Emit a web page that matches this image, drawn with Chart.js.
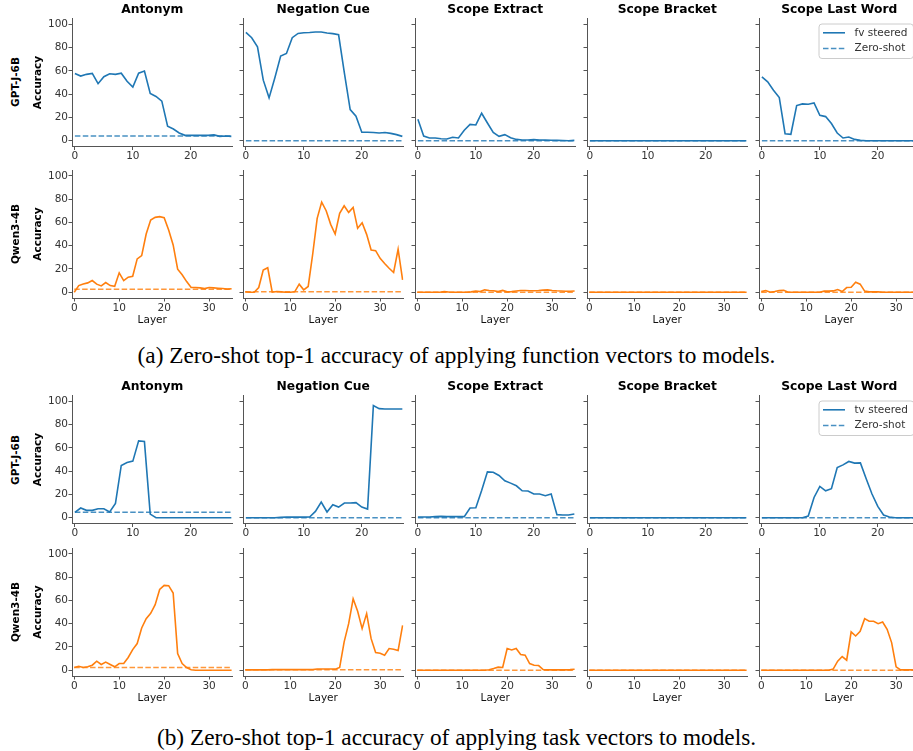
<!DOCTYPE html>
<html>
<head>
<meta charset="utf-8">
<title>Zero-shot steering accuracy</title>
<script src="https://cdn.jsdelivr.net/npm/chart.js@4.4.1/dist/chart.umd.min.js"></script>
<style>
  html, body { margin: 0; padding: 0; background: #fff; overflow: hidden; }
  #fig { position: relative; width: 913px; height: 751px; overflow: hidden; background: #fff; }
  #fig canvas { position: absolute; }
  .model { position: absolute; left: 15px; font: bold 10.5px "DejaVu Sans", sans-serif; color: #000;
           white-space: nowrap; transform: translate(-50%, -50%) rotate(-90deg); }
  .caption { position: absolute; left: 0; width: 913px; text-align: center; color: #000;
             font-family: "Liberation Serif", "Times New Roman", serif; font-size: 23.3px; line-height: 26px; }
</style>
</head>
<body>
<div id="fig"></div>
<script>
const TASKS = ["Antonym", "Negation Cue", "Scope Extract", "Scope Bracket", "Scope Last Word"];
const GPTJ_X_TICKS = [0, 10, 20];
const QWEN_X_TICKS = [0, 10, 20, 30];
const Y_TICKS = [0, 20, 40, 60, 80, 100];

// (a) function vectors -- GPT-J-6B, layers 0..27
const FV_GPTJ_ANTONYM = [57.8,55.5,57,57.8,49,55,57.5,57,58,51,46,58,59.8,40.5,38,34,12.4,10,6.6,4.6,4.6,4.6,4.6,4.6,5,3.7,4,3.7];
const FV_GPTJ_NEGATION = [93,88.5,80.7,52,36.8,54,72.7,75,88.5,92.2,92.8,93,93.4,93.4,92.5,92,91,58,26.7,21,7.2,7.2,7,6.6,7,6.3,5.2,3.7];
const FV_GPTJ_EXTRACT = [18.4,4,2.3,2.3,1.7,1.4,2.9,2.3,9,14,13.5,23.6,15.2,7,3.7,5.2,2.6,1.1,0.6,0.6,0.9,0.6,0.5,0.4,0.3,0.2,0,0.3];
const FV_GPTJ_BRACKET = [0,0,0,0,0,0,0,0,0,0,0,0,0,0,0,0,0,0,0,0,0,0,0,0,0,0,0,0];
const FV_GPTJ_LASTWORD = [54.9,50.6,43.4,37,6,5.5,30.2,31.6,31.3,32.5,21.8,20.7,14.7,6.6,2.3,3.2,1.1,0.3,0,0,0,0,0,0,0,0,0,0];
const ZS_FV_GPTJ = [4.0, 0, 0, 0, 0];

// (a) function vectors -- Qwen3-4B, layers 0..35
const FV_QWEN_ANTONYM = [0,5.7,7.1,8,10,6.9,5.4,8.3,5.7,5.1,16.6,10,12.9,13.7,28.6,31.4,50,62,64.3,64.9,64,53.4,40.6,19.7,14.9,9.1,4,4,3.7,3.1,4,3.7,3.4,3.1,2.6,2.9];
const FV_QWEN_NEGATION = [0.3,0,0,4,19,21,0,0.6,0.3,0,0,0.3,6.9,2,4.9,32.6,63.4,77.4,70,58.3,50,67.7,74.3,68.6,72.9,54.9,59.7,49.7,36.3,35.7,29.1,24.6,20.6,16.9,36.9,10.6];
const FV_QWEN_EXTRACT = [0,0,0,0,0,0,0.5,0.2,0,0,0,0,0.3,1,0.5,2,1.5,1.2,0.5,1.5,0.3,0.5,1,1.5,1.5,1.2,1.2,1.4,1.8,2,1.5,1.2,1,0.8,0.8,1];
const FV_QWEN_BRACKET = [0,0,0,0,0,0,0,0,0,0,0,0,0,0,0,0,0,0,0,0,0,0,0,0,0,0,0,0,0,0,0,0,0,0,0,0];
const FV_QWEN_LASTWORD = [0.5,1.4,0,0.6,1.4,1.7,0,0,0,0,0,0,0,0,0.9,0.9,1.1,2.3,0.6,4,4.3,8.6,6.9,0.9,0.3,0.3,0.3,0,0,0,0,0,0,0,0,0];
const ZS_FV_QWEN = [2.6, 0.4, 0, 0, 0];

// (b) task vectors -- GPT-J-6B
const TV_GPTJ_ANTONYM = [4.6,8.3,6.3,6.3,7.7,7.7,4.9,12.3,44.9,47.4,48.6,66,65.4,3.1,0,0,0,0,0,0,0,0,0,0,0,0,0,0];
const TV_GPTJ_NEGATION = [0,0,0,0,0,0,0.3,0.5,0.5,0.5,0.5,0.6,5.4,13.4,4.9,11.1,9.1,12.6,12.6,12.9,9.1,7.4,96.3,93.7,93.4,93.4,93.4,93.4];
const TV_GPTJ_EXTRACT = [0.6,0.6,0.6,0.9,1.1,0.9,0.9,0.9,0.9,8.3,8.6,23.4,39.4,39.1,36.3,31.7,29.7,27.4,23.1,22.9,20.3,20.3,18.9,20.3,2.6,2.3,2.3,3.1];
const TV_GPTJ_BRACKET = [0,0,0,0,0,0,0,0,0,0,0,0,0,0,0,0,0,0,0,0,0,0,0,0,0,0,0,0];
const TV_GPTJ_LASTWORD = [0,0,0,0,0,0,0,0,1.4,17.4,26.9,23.1,24.9,43.1,45.4,48.3,46.9,47.1,33.4,20.3,9.7,2.3,0.6,0,0,0,0,0];
const ZS_TV_GPTJ = [4.6, 0, 0, 0, 0];

// (b) task vectors -- Qwen3-4B
const TV_QWEN_ANTONYM = [2.3,3.4,2.3,2.9,4.3,7.7,4.9,6.9,4.9,2.9,5.7,5.7,10.9,17.7,22.9,36.3,44.3,48.9,56.3,69.4,72.9,72.6,66.3,14.3,5.7,2.3,0.3,0,0,0,0,0,0,0,0,0];
const TV_QWEN_NEGATION = [0.3,0.3,0.3,0.3,0.3,0.3,0.5,0.5,0.5,0.5,0.5,0.5,0.5,0.5,0.5,0.5,1,1,1,1,0.9,2.3,24.3,40,61.4,50.6,35.7,48.6,27.1,15.1,14.6,12.9,18.6,18,16.9,38.6];
const TV_QWEN_EXTRACT = [0,0,0,0,0,0,0,0,0,0,0,0,0,0,0,0,0.3,1.4,2.6,2.3,18.6,17.4,18.6,13.4,12.9,5.7,4.3,4,0.6,0.3,0.3,0.3,0.3,0.3,0.5,0.8];
const TV_QWEN_BRACKET = [0,0,0,0,0,0,0,0,0,0,0,0,0,0,0,0,0,0,0,0,0,0,0,0,0,0,0,0,0,0,0,0,0,0,0,0];
const TV_QWEN_LASTWORD = [0,0,0,0,0,0,0,0,0,0,0,0,0,0,0,0,0.9,7.7,11.7,8.6,32.9,29.4,33.4,44.3,42,42,40,41.4,35.1,23.7,2.9,0.3,0.3,0.3,0.3,0.3];
const ZS_TV_QWEN = [2.3, 0.3, 0, 0, 0];

const BLUE = "#1f77b4", ORANGE = "#ff7f0e";
const AXIS_GREY = "#555555";

// layout of the subplot grid (page pixels)
const COL_LEFT = [71.7, 243.4, 415.2, 587, 758.7];
const PW = 160.5, PH = 128, YW = 44, RP = 12.5;

const ROWS = [
  { top: 18.3,  model: "GPT-J-6B", label: "fv steered", color: BLUE,   xTicks: GPTJ_X_TICKS, title: true,  layer: false,
    series: [FV_GPTJ_ANTONYM, FV_GPTJ_NEGATION, FV_GPTJ_EXTRACT, FV_GPTJ_BRACKET, FV_GPTJ_LASTWORD], zs: ZS_FV_GPTJ },
  { top: 170,   model: "Qwen3-4B", label: "fv steered", color: ORANGE, xTicks: QWEN_X_TICKS, title: false, layer: true,
    series: [FV_QWEN_ANTONYM, FV_QWEN_NEGATION, FV_QWEN_EXTRACT, FV_QWEN_BRACKET, FV_QWEN_LASTWORD], zs: ZS_FV_QWEN },
  { top: 395.5, model: "GPT-J-6B", label: "tv steered", color: BLUE,   xTicks: GPTJ_X_TICKS, title: true,  layer: false,
    series: [TV_GPTJ_ANTONYM, TV_GPTJ_NEGATION, TV_GPTJ_EXTRACT, TV_GPTJ_BRACKET, TV_GPTJ_LASTWORD], zs: ZS_TV_GPTJ },
  { top: 547.5, model: "Qwen3-4B", label: "tv steered", color: ORANGE, xTicks: QWEN_X_TICKS, title: false, layer: true,
    series: [TV_QWEN_ANTONYM, TV_QWEN_NEGATION, TV_QWEN_EXTRACT, TV_QWEN_BRACKET, TV_QWEN_LASTWORD], zs: ZS_TV_QWEN },
];

Chart.defaults.font.family = '"DejaVu Sans", sans-serif';
Chart.defaults.color = "#333";

// legend box drawn inside the plot, top-right (like matplotlib loc="upper right")
const insideLegend = {
  id: "insideLegend",
  afterDraw(chart) {
    const { ctx, chartArea: a } = chart;
    const sets = chart.data.datasets;
    ctx.save();
    ctx.font = '10.5px "DejaVu Sans", sans-serif';
    const textW = Math.max(...sets.map(d => ctx.measureText(d.label).width));
    const x0 = a.right - 100.5, y0 = a.top + 5.5;
    const w = textW + 41.5, h = 34.5;
    ctx.beginPath();
    if (ctx.roundRect) ctx.roundRect(x0, y0, w, h, 3); else ctx.rect(x0, y0, w, h);
    ctx.fillStyle = "rgba(255,255,255,0.8)";
    ctx.fill();
    ctx.strokeStyle = "#cccccc";
    ctx.lineWidth = 1;
    ctx.stroke();
    sets.forEach((d, i) => {
      const y = y0 + 8.8 + i * 15.8;
      ctx.beginPath();
      ctx.setLineDash(d.borderDash || []);
      ctx.strokeStyle = d.borderColor;
      ctx.lineWidth = d.borderWidth;
      ctx.moveTo(x0 + 4, y);
      ctx.lineTo(x0 + 26, y);
      ctx.stroke();
      ctx.setLineDash([]);
      ctx.fillStyle = "#333";
      ctx.textBaseline = "middle";
      ctx.textAlign = "left";
      ctx.fillText(d.label, x0 + 35.5, y);
    });
    ctx.restore();
  }
};

const fig = document.getElementById("fig");

function addPanel(row, col) {
  const values = row.series[col];
  const n = values.length;
  const th = row.title ? 16.5 : 10;
  const xh = row.layer ? 31 : 18.5;
  const canvas = document.createElement("canvas");
  canvas.width = YW + PW + RP;
  canvas.height = th + PH + xh;
  canvas.style.left = (COL_LEFT[col] - YW) + "px";
  canvas.style.top = (row.top - th) + "px";
  fig.appendChild(canvas);

  const tickGrid = { drawOnChartArea: false, drawTicks: true, tickLength: 3.5, tickColor: AXIS_GREY, tickWidth: 1 };
  const border = { display: true, color: AXIS_GREY, width: 1 };

  new Chart(canvas, {
    type: "line",
    data: {
      datasets: [
        {
          label: row.label,
          data: values.map((v, i) => ({ x: i, y: v })),
          borderColor: row.color,
          borderWidth: 1.6,
          pointRadius: 0,
          tension: 0,
          order: 0,
        },
        {
          label: "Zero-shot",
          data: values.map((v, i) => ({ x: i, y: row.zs[col] })),
          borderColor: row.color + "d0",
          borderWidth: 1.5,
          borderDash: [5.5, 2.4],
          pointRadius: 0,
          order: 1,
        },
      ],
    },
    options: {
      responsive: false,
      animation: false,
      events: [],
      layout: { padding: { top: row.title ? 0 : 10, right: RP, left: 0, bottom: 0 } },
      scales: {
        x: {
          type: "linear",
          min: -0.5,
          max: n - 0.8,
          afterBuildTicks: s => { s.ticks = row.xTicks.map(v => ({ value: v })); },
          afterFit: s => { s.height = xh; },
          ticks: { padding: 0, autoSkip: false, maxRotation: 0, color: "#333", font: { size: 10.5 } },
          grid: tickGrid,
          border: border,
          title: { display: row.layer, text: "Layer", color: "#111", font: { size: 10.5 }, padding: { top: 0, bottom: 2 } },
        },
        y: {
          type: "linear",
          min: -5,
          max: 105,
          afterBuildTicks: s => { s.ticks = Y_TICKS.map(v => ({ value: v })); },
          afterFit: s => { s.width = YW; },
          ticks: { display: col === 0, padding: 0.5, color: "#333", font: { size: 10.5 } },
          grid: tickGrid,
          border: border,
          title: { display: col === 0, text: "Accuracy", color: "#000", font: { size: 10.5, weight: "bold" }, padding: { top: 4, bottom: 0 } },
        },
      },
      plugins: {
        legend: { display: false },
        tooltip: { enabled: false },
        title: {
          display: row.title,
          text: TASKS[col],
          fullSize: false,
          color: "#000",
          font: { size: 12.3, weight: "bold", lineHeight: 1.2 },
          padding: { top: 0, bottom: 1.74 },
        },
      },
    },
    plugins: (row.title && col === 4) ? [insideLegend] : [],
  });
}

ROWS.forEach(row => {
  for (let c = 0; c < TASKS.length; c++) addPanel(row, c);
  const lab = document.createElement("div");
  lab.className = "model";
  lab.textContent = row.model;
  lab.style.top = (row.top + PH / 2) + "px";
  fig.appendChild(lab);
});

const CAPTIONS = [
  { text: "(a) Zero-shot top-1 accuracy of applying function vectors to models.", y: 355 },
  { text: "(b) Zero-shot top-1 accuracy of applying task vectors to models.", y: 737 },
];
CAPTIONS.forEach(c => {
  const d = document.createElement("div");
  d.className = "caption";
  d.textContent = c.text;
  d.style.top = (c.y - 13) + "px";
  fig.appendChild(d);
});
</script>
</body>
</html>
